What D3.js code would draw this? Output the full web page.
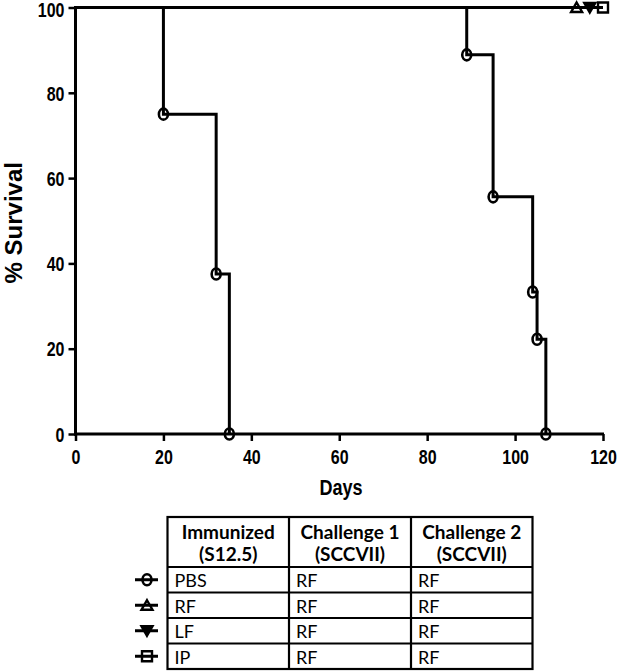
<!DOCTYPE html>
<html><head><meta charset="utf-8">
<script src="https://cdn.jsdelivr.net/npm/d3@7"></script>
<style>body{margin:0;background:#fff}svg{display:block}</style>
</head><body>
<script>
// Data
const xTicks = [0,20,40,60,80,100,120];
const yTicks = [0,20,40,60,80,100];
// Curve A (circles): step survival
const curveA_days = [0,20,32,35];
const curveA_surv = [100,75,37.5,0];
// Curve B (circles)
const curveB_days = [0,89,95,104,105,107];
const curveB_surv = [100,88.9,55.6,33.3,22.2,0];
// Censored groups at 100%
const flatGroups = ["RF","LF","IP"];
const flatSymbols = ["triangle","triangleDown","square"];
const flatEndDays = [114,117,120];
// Table
const tableHeaders = [["Immunized","(S12.5)"],["Challenge 1","(SCCVII)"],["Challenge 2","(SCCVII)"]];
const tableRows = [["PBS","RF","RF"],["RF","RF","RF"],["LF","RF","RF"],["IP","RF","RF"]];
const rowSymbols = ["circle","triangle","triangleDown","square"];

const W=618,H=671;
const svg=d3.select("body").append("svg").attr("width",W).attr("height",H);
const x=d3.scaleLinear().domain([0,120]).range([75.5,603]);
const y=d3.scaleLinear().domain([0,100]).range([434,7.5]);
const boldFont='"Liberation Sans", Arial, sans-serif';
const SX=0.82;

// axes
const gx=svg.append("g").attr("transform",`translate(0,${y(0)})`)
  .call(d3.axisBottom(x).tickValues(xTicks).tickSize(7).tickPadding(9).tickSizeOuter(0));
const gy=svg.append("g").attr("transform",`translate(${x(0)},0)`)
  .call(d3.axisLeft(y).tickValues(yTicks).tickSize(7).tickPadding(4).tickSizeOuter(0));
[gx,gy].forEach(g=>{
  g.select(".domain").attr("stroke","#000").attr("stroke-width",3);
  g.selectAll(".tick line").attr("stroke","#000").attr("stroke-width",2.5);
  g.selectAll(".tick text").attr("font-family",boldFont).attr("font-weight","bold").attr("font-size",19.5).attr("fill","#000");
});
gx.selectAll(".tick text").attr("transform",`scale(${SX},1)`);
gy.selectAll(".tick text").attr("x",-11/SX).attr("y",d=>d===100?2.5:1).attr("transform",`scale(${SX},1)`);
gx.select(".domain").attr("d",`M${x(0)-1.5},0H${x(120)+1}`);
gy.select(".domain").attr("d",`M0,${y(0)+1.5}V${y(100)-1.5}`);

// titles
svg.append("text").attr("transform",`translate(341,495) scale(${SX},1)`).attr("text-anchor","middle")
  .attr("font-family",boldFont).attr("font-weight","bold").attr("font-size",22).text("Days");
svg.append("text").attr("transform",`translate(22,${y(50)+2}) rotate(-90)`).attr("text-anchor","middle")
  .attr("font-family",boldFont).attr("font-weight","bold").attr("font-size",24).text("% Survival");

// step lines
const line=d3.line().x(d=>x(d[0])).y(d=>y(d[1])).curve(d3.curveStepAfter);
function drawCurve(pts){
  svg.append("path").attr("d",line(pts)).attr("fill","none").attr("stroke","#000").attr("stroke-width",3);
}
drawCurve([[0,100],[120,100]]);
drawCurve(curveA_days.map((d,i)=>[d,curveA_surv[i]]));
drawCurve(curveB_days.map((d,i)=>[d,curveB_surv[i]]));

function drawMarker(type,cx,cy,s){
  s=s||1;
  if(type==="circle"){
    svg.append("ellipse").attr("cx",cx).attr("cy",cy).attr("rx",4.5*s).attr("ry",5.5*s)
      .attr("fill","none").attr("stroke","#000").attr("stroke-width",2.6);
    return;
  }
  let pts;
  if(type==="triangle") pts=[[0,-5],[5.5,4.5],[-5.5,4.5]];
  else if(type==="triangleDown") pts=[[0,5],[5.5,-4.5],[-5.5,-4.5]];
  else pts=[[-5,-5],[5,-5],[5,5],[-5,5]];
  svg.append("path").attr("d","M"+pts.map(p=>[p[0]*s,p[1]*s].join(",")).join("L")+"Z")
    .attr("transform",`translate(${cx},${cy})`)
    .attr("fill",type==="triangleDown"?"#000":"none").attr("stroke","#000").attr("stroke-width",2.4)
    .attr("stroke-linejoin","miter");
}
curveA_days.forEach((d,i)=>{ if(i>0) drawMarker("circle",x(d),y(curveA_surv[i])); });
curveB_days.forEach((d,i)=>{ if(i>0) drawMarker("circle",x(d),y(curveB_surv[i])); });
flatEndDays.forEach((d,i)=>drawMarker(flatSymbols[i],x(d),y(100)));

// table
const tx0=167.5, colW=[121.5,122,121.5], ty0=517, headH=50, rowH=25.5;
const colX=[tx0]; colW.forEach(w=>colX.push(colX[colX.length-1]+w));
const tFont='Lato, "Open Sans", sans-serif';
const tbl=svg.append("g");
const totalH=headH+rowH*tableRows.length;
tbl.append("rect").attr("x",tx0).attr("y",ty0).attr("width",colX[3]-tx0).attr("height",totalH)
  .attr("fill","none").attr("stroke","#000").attr("stroke-width",2.2);
colX.slice(1,3).forEach(cx=>tbl.append("line").attr("x1",cx).attr("x2",cx).attr("y1",ty0).attr("y2",ty0+totalH).attr("stroke","#000").attr("stroke-width",2.2));
tableRows.forEach((r,i)=>{
  const yy=ty0+headH+rowH*i;
  tbl.append("line").attr("x1",tx0).attr("x2",colX[3]).attr("y1",yy).attr("y2",yy).attr("stroke","#000").attr("stroke-width",2.2);
});
tableHeaders.forEach((h,j)=>{
  h.forEach((t,k)=>tbl.append("text").attr("x",colX[j]+colW[j]/2).attr("y",ty0+22+k*22)
    .attr("text-anchor","middle").attr("font-family",tFont).attr("font-weight","bold").attr("font-size",19).text(t));
});
tableRows.forEach((r,i)=>{
  const yy=ty0+headH+rowH*i;
  r.forEach((t,j)=>tbl.append("text").attr("x",colX[j]+7).attr("y",yy+20)
    .attr("font-family",tFont).attr("font-size",18).text(t));
  // legend symbol
  const cy=yy+rowH/2, cx=147;
  svg.append("line").attr("x1",cx-12).attr("x2",cx+11).attr("y1",cy).attr("y2",cy).attr("stroke","#000").attr("stroke-width",3);
  drawMarker(rowSymbols[i],cx,cy);
});
</script>
</body></html>
